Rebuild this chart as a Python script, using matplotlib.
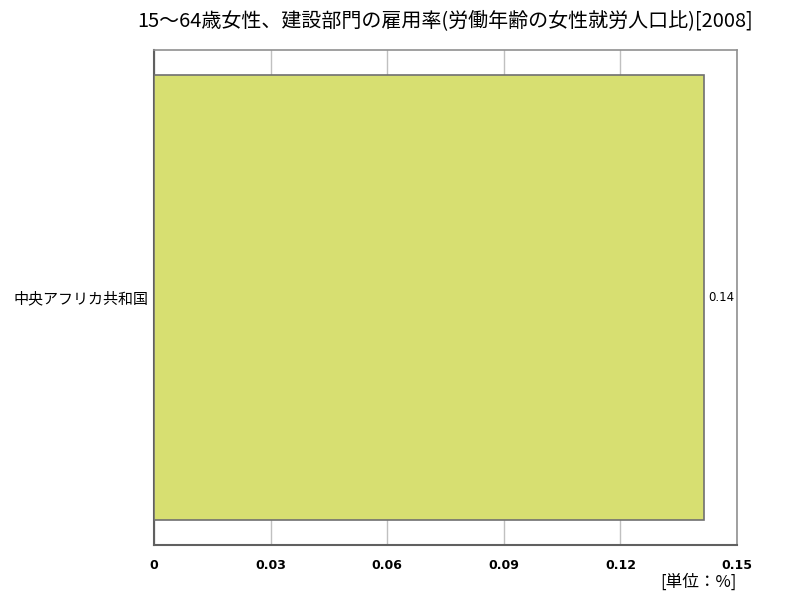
import matplotlib
matplotlib.use("Agg")
import matplotlib.pyplot as plt

plt.rcParams['font.family'] = ['Noto Sans CJK JP', 'DejaVu Sans']

title = "15～64歳女性、建設部門の雇用率(労働年齢の女性就労人口比)[2008]"
countries = ["中央アフリカ共和国"]
values = [0.1415]
value_labels = ["0.14"]
xticks = [0, 0.03, 0.06, 0.09, 0.12, 0.15]
xtick_labels = ["0", "0.03", "0.06", "0.09", "0.12", "0.15"]

fig = plt.figure(figsize=(8, 6), dpi=100)
ax = fig.add_axes([0.1925, 0.0917, 0.72875, 0.825])

ax.barh(countries, values, height=0.9, color="#d7df71", edgecolor="#707070", linewidth=1.2, zorder=3)
for i, (v, lab) in enumerate(zip(values, value_labels)):
    ax.text(v + 0.0012, i, lab, va="center", ha="left", fontsize=8.5, family="DejaVu Sans")

ax.set_xlim(0, 0.15)
ax.set_ylim(-0.5, 0.5)
ax.set_xticks(xticks)
ax.set_xticklabels(xtick_labels, fontsize=9, fontweight="bold", family="DejaVu Sans")
ax.tick_params(axis="x", length=0, pad=10)
ax.tick_params(axis="y", length=0, pad=4, labelsize=10.8)
ax.grid(axis="x", color="#c0c0c0", linewidth=1, zorder=0)

for side in ["left", "bottom"]:
    ax.spines[side].set_color("#606060")
    ax.spines[side].set_linewidth(1.5)
for side in ["top", "right"]:
    ax.spines[side].set_color("#909090")
    ax.spines[side].set_linewidth(1.2)

fig.text(0.5569, 0.965, title, ha="center", va="center", fontsize=14.4)
fig.text(0.921, 0.03, "[単位：%]", ha="right", va="center", fontsize=12)

fig.savefig("out.png", dpi=100)
